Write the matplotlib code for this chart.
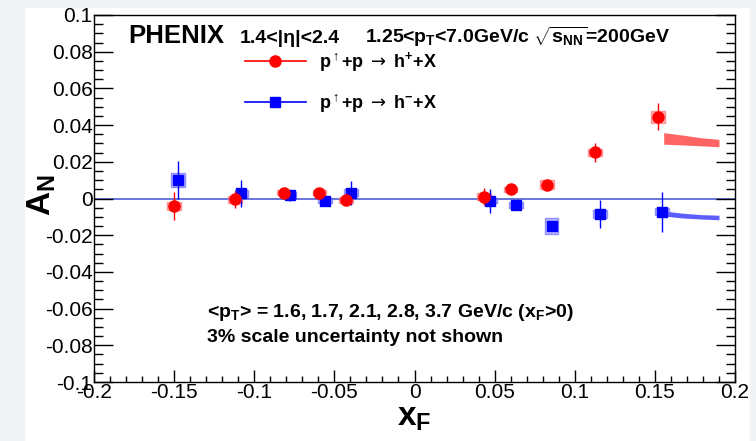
import matplotlib
matplotlib.use("Agg")
import matplotlib.pyplot as plt
from matplotlib.patches import Rectangle
from matplotlib.lines import Line2D
from matplotlib.ticker import MultipleLocator

plt.rcParams['font.family'] = ['Liberation Sans', 'DejaVu Sans']
plt.rcParams['mathtext.fontset'] = 'custom'
plt.rcParams['mathtext.rm'] = 'Liberation Sans'
plt.rcParams['mathtext.bf'] = 'Liberation Sans:bold'
plt.rcParams['mathtext.it'] = 'Liberation Sans:italic'
plt.rcParams['mathtext.sf'] = 'DejaVu Sans'
plt.rcParams['mathtext.default'] = 'bf'

# ---------------- data ----------------
# h+ (red circles)
xr = [-0.150, -0.112, -0.0814, -0.0594, -0.0427, 0.0434, 0.0600, 0.0825, 0.1126, 0.1518]
yr = [-0.0041, -0.0005, 0.0032, 0.0032, -0.0008, 0.0010, 0.0050, 0.0075, 0.0252, 0.0446]
er = [0.0075, 0.0045, 0.0020, 0.0015, 0.0030, 0.0045, 0.0012, 0.0012, 0.0053, 0.0075]
sr = [0.0020, 0.0020, 0.0015, 0.0015, 0.0015, 0.0020, 0.0012, 0.0024, 0.0020, 0.0033]
# h- (blue squares)
xb = [-0.1476, -0.108, -0.078, -0.0558, -0.0396, 0.0471, 0.0633, 0.0856, 0.1158, 0.1543]
yb = [0.0101, 0.0028, 0.0019, -0.0012, 0.0032, -0.0012, -0.0035, -0.0148, -0.0085, -0.0072]
eb = [0.0105, 0.0075, 0.0030, 0.0020, 0.0065, 0.0065, 0.0020, 0.0020, 0.0078, 0.0109]
sb = [0.0040, 0.0020, 0.0015, 0.0015, 0.0020, 0.0015, 0.0015, 0.0043, 0.0020, 0.0020]
# theory bands
band_x = [0.1555, 0.167, 0.179, 0.190]
red_hi = [0.0359, 0.0346, 0.0331, 0.0322]
red_lo = [0.0296, 0.0292, 0.0287, 0.0282]
blue_hi = [-0.0068, -0.0080, -0.0088, -0.0091]
blue_lo = [-0.0095, -0.0106, -0.0112, -0.0116]

xticks = [-0.2, -0.15, -0.1, -0.05, 0, 0.05, 0.1, 0.15, 0.2]
xticklabels = ['-0.2', '-0.15', '-0.1', '-0.05', '0', '0.05', '0.1', '0.15', '0.2']
yticks = [-0.1, -0.08, -0.06, -0.04, -0.02, 0, 0.02, 0.04, 0.06, 0.08, 0.1]
yticklabels = ['-0.1', '-0.08', '-0.06', '-0.04', '-0.02', '0', '0.02', '0.04', '0.06', '0.08', '0.1']

RED = '#ff0000'
BLUE = '#0000ff'

W, H = 756, 441
fig = plt.figure(figsize=(W / 100, H / 100), dpi=100)
fig.patch.set_facecolor('white')
# light grey page margins of the screenshot
gray = '#f1f3f6'
fig.patches.append(Rectangle((0, 0), 24 / W, 1, transform=fig.transFigure, color=gray, zorder=-10))
fig.patches.append(Rectangle((0, 1 - 7 / H), 1, 7 / H, transform=fig.transFigure, color=gray, zorder=-10))
fig.patches.append(Rectangle((1 - 6 / W, 0), 6 / W, 1, transform=fig.transFigure, color=gray, zorder=-10))

ax = fig.add_axes([94 / W, (H - 382) / H, (735 - 94) / W, (382 - 15) / H])
ax.set_xlim(-0.2, 0.2)
ax.set_ylim(-0.1, 0.1)

# zero line
ax.axhline(0, color='#4f5fd6', lw=1.2, zorder=1)

# theory bands
ax.fill_between(band_x, red_lo, red_hi, color='#ff6464', lw=0, zorder=2)
ax.fill_between(band_x, blue_lo, blue_hi, color='#5e5eff', lw=0, zorder=2)

# systematic boxes
bw = 0.0085
for x, y, s in zip(xr, yr, sr):
    ax.add_patch(Rectangle((x - bw / 2, y - s), bw, 2 * s, facecolor='#ff9090', edgecolor='#ff6060',
                           alpha=0.6, lw=1.0, zorder=3))
for x, y, s in zip(xb, yb, sb):
    ax.add_patch(Rectangle((x - bw / 2, y - s), bw, 2 * s, facecolor='#9090ff', edgecolor='#5a5aff',
                           alpha=0.6, lw=1.0, zorder=3))

# points with statistical errors
ax.errorbar(xr, yr, yerr=er, fmt='o', color=RED, ms=8, mec=RED, elinewidth=1.0, capsize=0, zorder=5)
ax.errorbar(xb, yb, yerr=eb, fmt='s', color=BLUE, ms=7, mec=BLUE, elinewidth=1.0, capsize=0, zorder=4)

# axes styling
ax.set_xticks(xticks)
ax.set_xticklabels(xticklabels)
ax.set_yticks(yticks)
ax.set_yticklabels(yticklabels)
ax.xaxis.set_minor_locator(MultipleLocator(0.01))
ax.yaxis.set_minor_locator(MultipleLocator(0.005))
ax.tick_params(axis='y', which='major', direction='in', length=13.5, width=1.0, right=True, labelsize=15, pad=1)
ax.tick_params(axis='y', which='minor', direction='in', length=6.5, width=1.0, right=True)
ax.tick_params(axis='x', which='major', direction='in', length=8.5, width=1.0, top=False, labelsize=15, pad=1)
ax.tick_params(axis='x', which='minor', direction='in', length=4.3, width=1.0, top=False)
for sp in ax.spines.values():
    sp.set_linewidth(1.0)

ax.set_ylabel('A$_{\\mathbf{N}}$', fontsize=24, fontweight='bold')
ax.yaxis.set_label_coords(-0.056, 0.51)
ax.set_xlabel('x$_{\\mathbf{F}}$', fontsize=24, fontweight='bold', labelpad=0)

# header
ax.text(34 / 641, 0.925, 'PHENIX', transform=ax.transAxes, fontsize=18.5, fontweight='bold', va='baseline')
ax.text(146 / 641, 0.925, '1.4<|η|<2.4', transform=ax.transAxes, fontsize=14, fontweight='bold', va='baseline')
ax.text(271 / 641, 0.925, '1.25<p$_{\\mathbf{T}}$<7.0GeV/c $\\sqrt{\\mathbf{s}_{\\mathbf{NN}}}$=200GeV',
        transform=ax.transAxes, fontsize=14, fontweight='bold', va='baseline')

# legend
handles = [Line2D([], [], color=RED, marker='o', ms=8, lw=1.2),
           Line2D([], [], color=BLUE, marker='s', ms=7, lw=1.2)]
labels = ['p$^{\\uparrow}$+p $\\mathsf{\\rightarrow}$ h$^{+}$+X',
          'p$^{\\uparrow}$+p $\\mathsf{\\rightarrow}$ h$^{-}$+X']
ax.legend(handles, labels, loc='upper left', bbox_to_anchor=(0.235, 0.905), frameon=False,
          handlelength=3.4, handletextpad=0.7, labelspacing=1.0, borderpad=0, borderaxespad=0,
          prop={'family': 'Liberation Sans', 'weight': 'bold', 'size': 13})

# notes
ax.text(113 / 641, 0.19, '<p$_{\\mathbf{T}}$> = 1.6, 1.7, 2.1, 2.8, 3.7 GeV/c (x$_{\\mathbf{F}}$>0)',
        transform=ax.transAxes, fontsize=14, fontweight='bold', va='center')
ax.text(113 / 641, 0.122, '3% scale uncertainty not shown', transform=ax.transAxes, fontsize=14,
        fontweight='bold', va='center')

fig.savefig('out.png', dpi=100, facecolor=fig.get_facecolor())
